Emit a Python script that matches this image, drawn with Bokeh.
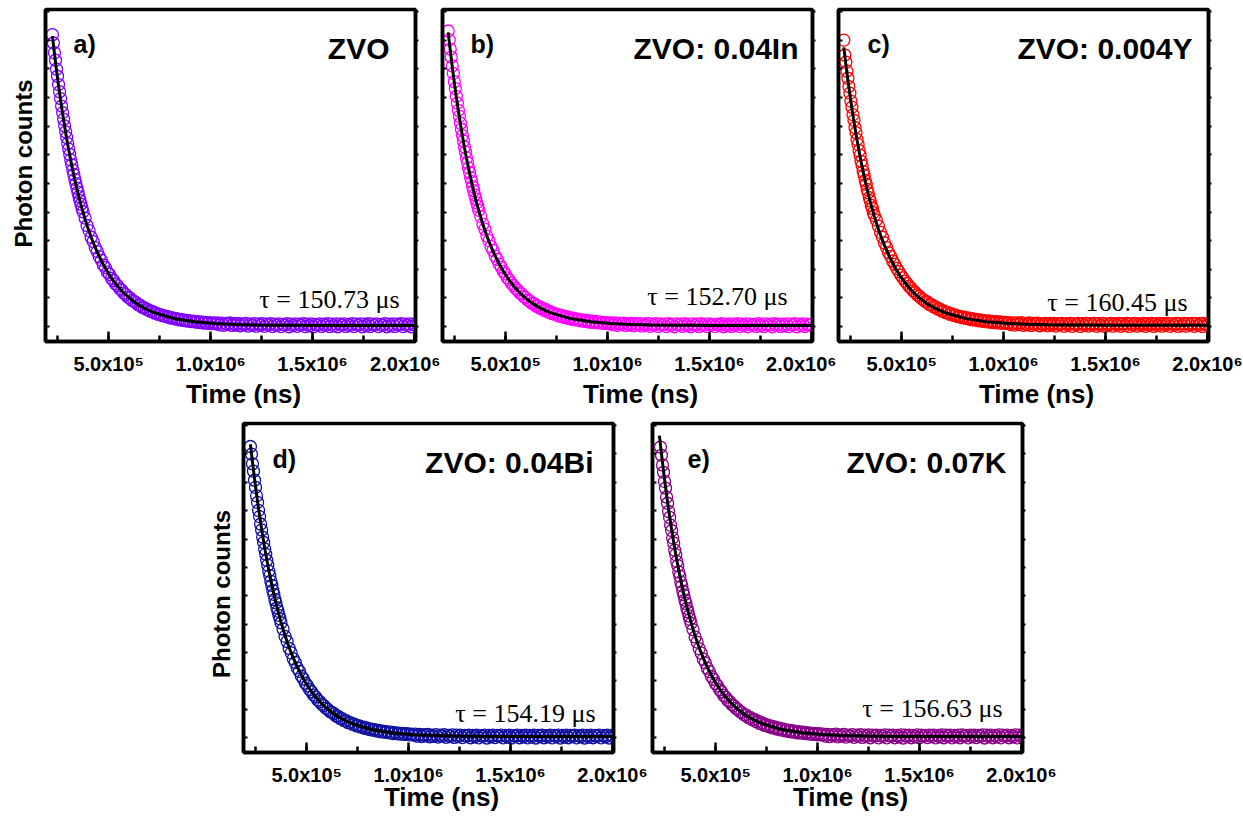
import numpy as np
from bokeh.plotting import figure
from bokeh.models import Range1d, SingleIntervalTicker, LinearAxis, Label, CustomJSTickFormatter
from bokeh.layouts import row, column
from bokeh.embed import file_html
from bokeh.resources import INLINE

# ---------------- data ----------------
# sampling grid (ns after the first channel shown in each panel)
DATA_OFFSETS_NS = np.concatenate([np.arange(0, 150001, 5000),
                                  np.arange(160000, 1780001, 10000)])
FIT_OFFSETS_NS = np.concatenate([np.arange(0, 200001, 10000),
                                 np.arange(225000, 500001, 25000),
                                 np.arange(600000, 1800001, 100000)])

SAMPLES = ["ZVO", "ZVO: 0.04In", "ZVO: 0.004Y", "ZVO: 0.04Bi", "ZVO: 0.07K"]
PANEL_LETTERS = ["a)", "b)", "c)", "d)", "e)"]
LIFETIMES_US = [150.73, 152.70, 160.45, 154.19, 156.63]
COLORS = ["#8000FF", "#FF00FF", "#FF0000", "#1010A0", "#880088"]
DATA_START_NS = [224000, 218000, 216000, 224000, 229000]
FIT_START_NS = [224000, 218000, 216000, 224000, 224000]

COUNTS_ZVO = [
    10190, 9900, 9560, 9300, 8990, 8740, 8450, 8200, 7960, 7700,
    7470, 7240, 7010, 6800, 6600, 6390, 6200, 6010, 5820, 5650,
    5470, 5310, 5140, 4990, 4830, 4690, 4540, 4400, 4270, 4140, 4010,
    3790, 3530, 3350, 3120, 2970, 2760, 2620, 2440, 2320, 2150,
    2060, 1900, 1820, 1680, 1610, 1490, 1430, 1320, 1270, 1170,
    1120, 1030, 1000, 915, 885,
    840, 760, 745, 675, 665, 600, 590, 535, 530, 475,
    470, 425, 420, 380, 375, 340, 340, 300, 305, 270,
    275, 240, 250, 215, 225, 195, 205, 175, 190, 155,
    175, 140, 165, 125, 150, 115, 140, 105, 130, 95,
    130, 60, 120, 45, 110, 70, 125, 40, 100, 55,
    115, 30, 95, 60, 110, 20, 90, 50, 105, 15,
    95, 45, 100, 10, 85, 60, 100, 5, 90, 40,
    95, 0, 80, 55, 100, -5, 90, 35, 95, 10,
    85, 50, 100, 0, 90, 30, 95, -5, 80, 55,
    95, 5, 90, 40, 100, 0, 85, 25, 95, -5,
    90, 50, 95, 5, 80, 35, 100, 0, 90, 45,
    95, -5, 85, 30, 100, 5, 90, 50, 95, 0,
    80, 40, 100, -5, 90, 25, 95, 5, 85, 50,
    100, 0, 90, 35, 95, -5, 85, 45]
COUNTS_IN = [
    10320, 10010, 9690, 9410, 9100, 8840, 8550, 8310, 8040, 7800,
    7550, 7340, 7100, 6890, 6670, 6480, 6270, 6090, 5890, 5720,
    5540, 5380, 5200, 5060, 4890, 4750, 4600, 4460, 4320, 4200, 4060,
    3840, 3580, 3400, 3160, 3000, 2790, 2660, 2470, 2350, 2180,
    2080, 1930, 1840, 1700, 1630, 1510, 1440, 1340, 1280, 1180,
    1140, 1050, 1010, 925, 895,
    815, 805, 720, 720, 640, 650, 570, 590, 505, 520,
    450, 470, 400, 420, 355, 385, 315, 350, 280, 315,
    250, 285, 225, 255, 200, 235, 180, 215, 160, 195,
    145, 180, 130, 165, 120, 150, 110, 140, 100, 130,
    60, 125, 45, 115, 70, 120, 35, 105, 55, 110,
    25, 100, 60, 105, 20, 95, 45, 110, 10, 90,
    50, 100, 5, 95, 55, 85, 0, 100, 40, 90,
    -5, 95, 50, 85, 10, 100, 30, 90, -5, 95,
    45, 85, 5, 100, 35, 90, 0, 95, 50, 80,
    0, 90, 40, 100, -5, 85, 30, 95, 5, 90,
    45, 100, 0, 85, 35, 95, -5, 90, 50, 80,
    5, 100, 30, 90, 0, 95, 45, 85, -5, 100,
    40, 90, 5, 85, 30, 95, 0, 90, 50, 100,
    -5, 85, 35, 95, 5, 90, 45, 80]
COUNTS_Y = [
    10000, 9480, 9230, 8920, 8670, 8380, 8150, 7870, 7660, 7400,
    7200, 6950, 6770, 6530, 6360, 6140, 5980, 5770, 5620, 5420,
    5290, 5100, 4970, 4790, 4670, 4500, 4390, 4230, 4130, 3980, 3880,
    3720, 3510, 3290, 3120, 2920, 2760, 2580, 2450, 2290, 2170,
    2030, 1920, 1800, 1700, 1590, 1510, 1410, 1340, 1250, 1190,
    1110, 1060, 985, 940, 875,
    860, 770, 770, 690, 690, 610, 615, 545, 550, 485,
    495, 430, 445, 390, 400, 345, 360, 310, 330, 280,
    300, 250, 275, 225, 250, 200, 230, 185, 210, 165,
    195, 150, 180, 140, 170, 125, 160, 115, 150, 110,
    140, 70, 130, 55, 125, 75, 135, 45, 115, 65,
    125, 40, 110, 70, 120, 30, 105, 60, 115, 25,
    110, 55, 115, 20, 100, 70, 110, 15, 105, 50,
    110, 10, 95, 65, 115, 5, 105, 45, 110, 20,
    100, 60, 115, 10, 105, 40, 110, 5, 95, 65,
    110, 15, 105, 50, 115, 10, 100, 35, 110, 5,
    105, 60, 110, 15, 95, 45, 115, 10, 105, 55,
    110, 5, 100, 40, 115, 15, 105, 60, 110, 10,
    95, 50, 115, 5, 105, 35, 110, 15, 100, 60,
    115, 10, 105, 45, 110, 5, 100, 55]
COUNTS_BI = [
    10260, 9990, 9650, 9390, 9070, 8820, 8520, 8290, 8010, 7790,
    7530, 7320, 7070, 6880, 6650, 6470, 6250, 6080, 5870, 5710,
    5520, 5370, 5190, 5050, 4870, 4750, 4580, 4460, 4310, 4190, 4050,
    3830, 3570, 3390, 3150, 2990, 2780, 2650, 2460, 2340, 2170,
    2070, 1920, 1830, 1700, 1620, 1500, 1440, 1330, 1275, 1180,
    1130, 1045, 1000, 925, 890,
    845, 765, 755, 680, 670, 600, 600, 530, 535, 470,
    480, 420, 430, 375, 385, 335, 345, 295, 310, 265,
    285, 235, 260, 210, 235, 190, 215, 170, 195, 150,
    180, 135, 165, 125, 150, 115, 145, 100, 130, 95,
    125, 55, 115, 40, 105, 65, 120, 35, 95, 50,
    110, 25, 90, 55, 105, 15, 85, 45, 100, 10,
    90, 40, 95, 5, 80, 55, 95, 0, 85, 35,
    90, -5, 75, 50, 95, -10, 85, 30, 90, 5,
    80, 45, 95, -5, 85, 25, 90, -10, 75, 50,
    90, 0, 85, 35, 95, -5, 80, 20, 90, -10,
    85, 45, 90, 0, 75, 30, 95, -5, 85, 40,
    90, -10, 80, 25, 95, 0, 85, 45, 90, -5,
    75, 35, 95, -10, 85, 20, 90, 0, 80, 45,
    95, -5, 85, 30, 90, -10, 80, 40]
COUNTS_K = [
    10240, 9950, 9610, 9350, 9030, 8790, 8480, 8260, 7970, 7760,
    7490, 7300, 7040, 6860, 6610, 6450, 6210, 6060, 5840, 5690,
    5490, 5350, 5160, 5030, 4850, 4730, 4560, 4440, 4290, 4170, 4030,
    3810, 3550, 3370, 3140, 2980, 2770, 2640, 2450, 2330, 2160,
    2060, 1910, 1830, 1690, 1620, 1490, 1430, 1320, 1270, 1170,
    1125, 1040, 1000, 920, 885,
    805, 800, 715, 715, 635, 645, 560, 585, 495, 520,
    440, 465, 395, 420, 345, 380, 305, 345, 275, 310,
    245, 280, 220, 255, 195, 235, 175, 215, 160, 195,
    145, 175, 130, 165, 115, 155, 105, 145, 100, 130,
    60, 120, 40, 110, 65, 125, 30, 100, 55, 115,
    20, 95, 60, 110, 15, 90, 50, 105, 10, 95,
    45, 100, 0, 90, 55, 95, -5, 85, 40, 100,
    -5, 90, 50, 95, 0, 85, 35, 100, -10, 90,
    45, 95, 0, 80, 35, 100, -5, 90, 50, 85,
    5, 95, 40, 90, -5, 85, 30, 100, 0, 90,
    45, 95, -5, 85, 35, 90, 0, 100, 50, 80,
    -5, 95, 30, 90, 5, 85, 45, 100, -10, 90,
    40, 95, 0, 85, 30, 100, -5, 90, 50, 95,
    0, 85, 35, 100, -5, 90, 45, 85]

FIT_ZVO = [10140, 9528, 8953, 8413, 7906, 7429, 6982, 6561, 6166, 5795,
           5447, 5118, 4811, 4521, 4251, 3995, 3756, 3531, 3319, 3121, 2934,
           2516, 2157, 1851, 1589, 1366, 1173, 1010, 869, 749, 647, 559, 483,
           277, 167, 108, 76, 59, 50, 45, 42, 41, 40, 40, 40, 40]
FIT_IN = [10270, 9650, 9068, 8521, 8007, 7524, 7071, 6644, 6244, 5869,
          5516, 5184, 4873, 4579, 4305, 4046, 3804, 3575, 3362, 3160, 2971,
          2547, 2184, 1874, 1609, 1382, 1188, 1022, 880, 758, 655, 566, 489,
          280, 169, 109, 77, 59, 50, 45, 40, 40, 40, 40, 40, 40]
FIT_Y = [9750, 9162, 8610, 8091, 7604, 7147, 6717, 6312, 5933, 5577,
         5242, 4927, 4632, 4354, 4094, 3849, 3619, 3402, 3200, 3009, 2829,
         2427, 2083, 1789, 1538, 1323, 1138, 981, 846, 731, 633, 549, 476,
         278, 172, 115, 85, 68, 60, 55, 50, 50, 50, 50, 50, 50]
FIT_BI = [10340, 9716, 9130, 8579, 8062, 7575, 7119, 6690, 6287, 5909,
          5554, 5219, 4906, 4610, 4334, 4073, 3829, 3600, 3384, 3182, 2991,
          2565, 2199, 1887, 1620, 1391, 1196, 1029, 886, 763, 659, 569, 492,
          282, 170, 109, 77, 60, 50, 45, 40, 40, 40, 40, 40, 40]
FIT_K = [10640, 9998, 9395, 8827, 8295, 7795, 7325, 6883, 6469, 6080,
         5714, 5370, 5047, 4743, 4459, 4191, 3940, 3703, 3482, 3273, 3077,
         2638, 2262, 1941, 1666, 1431, 1229, 1058, 910, 784, 677, 585, 505,
         289, 174, 111, 78, 60, 51, 45, 40, 40, 40, 40, 40, 40]

COUNTS = [COUNTS_ZVO, COUNTS_IN, COUNTS_Y, COUNTS_BI, COUNTS_K]
FITS = [FIT_ZVO, FIT_IN, FIT_Y, FIT_BI, FIT_K]

X_TICK_LABELS = {500000: "5.0x10\u2075", 1000000: "1.0x10\u2076",
                 1500000: "1.5x10\u2076", 2000000: "2.0x10\u2076"}
X_TITLE = "Time (ns)"
Y_TITLE = "Photon counts"

# ---------------- styling / layout ----------------
X_START, X_END = 1.9e5, 2.005e6
Y_START, Y_END = -520, 11070
FW = 370
SANS = "Liberation Sans"
SERIF = "Liberation Serif"

# frame height, borders (left, right, top, bottom), x-title standoff
GEOM = [
    dict(fh=332, bl=45, br=25, bt=9, bb=70, xls=1),
    dict(fh=332, bl=2, br=24, bt=9, bb=70, xls=1),
    dict(fh=332, bl=2, br=35, bt=9, bb=70, xls=1),
    dict(fh=329, bl=243, br=37, bt=12, bb=68, xls=-7),
    dict(fh=329, bl=2, br=40, bt=12, bb=68, xls=-7),
]
LETTER_DX = [28, 28, 29, 29, 35]
LETTER_DY = [34, 34, 34, 35, 35]
TITLE_INSET = [26, 14, 16, 20, 16]
TAU_INSET = [16, 25, 21, 18, 20]
TAU_UP = [42, 45, 39, 39, 44]
# y-title: leading / trailing spacer to shift the rotated label along the axis
Y_TITLE_TEXT = {0: "\u2003" + Y_TITLE, 3: Y_TITLE + "\u2002"}

fmt_code = "const m = %s; return m[String(Math.round(tick))] || '';" % (
    "{" + ",".join('"%d":"%s"' % (k, v) for k, v in X_TICK_LABELS.items()) + "}")


def make_panel(i):
    g = GEOM[i]
    fh = g["fh"]

    def dx(px):
        return X_START + px * (X_END - X_START) / FW

    def dy(px):
        return Y_START + px * (Y_END - Y_START) / fh

    p = figure(frame_width=FW, frame_height=fh,
               min_border_left=g["bl"], min_border_right=g["br"],
               min_border_top=g["bt"], min_border_bottom=g["bb"],
               x_range=Range1d(X_START, X_END), y_range=Range1d(Y_START, Y_END),
               output_backend="svg", toolbar_location=None,
               background_fill_color="white", border_fill_color="white")
    p.xgrid.visible = False
    p.ygrid.visible = False
    p.outline_line_color = "black"
    p.outline_line_width = 3.5
    p.outline_line_alpha = 1.0

    xa = p.xaxis[0]
    xa.ticker = SingleIntervalTicker(interval=500000, num_minor_ticks=2)
    xa.formatter = CustomJSTickFormatter(code=fmt_code)
    xa.major_tick_in = 10
    xa.major_tick_out = 0
    xa.minor_tick_in = 6
    xa.minor_tick_out = 0
    xa.major_tick_line_width = 2.5
    xa.minor_tick_line_width = 2.5
    xa.axis_line_width = 3.5
    xa.major_label_text_font = SANS
    xa.major_label_text_font_style = "bold"
    xa.major_label_text_font_size = "20px"
    xa.major_label_text_color = "black"
    xa.major_label_standoff = 11
    xa.axis_label = "\u2003" + X_TITLE
    xa.axis_label_text_font = SANS
    xa.axis_label_text_font_style = "bold"
    xa.axis_label_text_font_size = "26px"
    xa.axis_label_text_color = "black"
    xa.axis_label_standoff = g["xls"]

    ya = p.yaxis[0]
    ya.ticker = SingleIntervalTicker(interval=1000, num_minor_ticks=0)
    ya.formatter = CustomJSTickFormatter(code="return '';")
    ya.major_label_text_font_size = "0px"
    ya.major_label_standoff = 0
    ya.major_tick_in = 4
    ya.major_tick_out = 0
    ya.minor_tick_in = 0
    ya.minor_tick_out = 0
    ya.major_tick_line_width = 2
    ya.axis_line_width = 3.5
    if i in Y_TITLE_TEXT:
        ya.axis_label = Y_TITLE_TEXT[i]
        ya.axis_label_text_font = SANS
        ya.axis_label_text_font_style = "bold"
        ya.axis_label_text_font_size = "24px"
        ya.axis_label_text_color = "black"
        ya.axis_label_standoff = 9

    ra = LinearAxis(ticker=SingleIntervalTicker(interval=1000, num_minor_ticks=0),
                    formatter=CustomJSTickFormatter(code="return '';"),
                    major_label_text_font_size="0px", major_label_standoff=0,
                    major_tick_in=0, major_tick_out=3, minor_tick_in=0, minor_tick_out=0,
                    major_tick_line_width=2, axis_line_width=3.5)
    p.add_layout(ra, "right")

    t = DATA_START_NS[i] + DATA_OFFSETS_NS
    p.scatter(t, COUNTS[i], marker="circle", size=12, fill_color=None,
              line_color=COLORS[i], line_width=1.3)
    tf = FIT_START_NS[i] + FIT_OFFSETS_NS
    p.line(tf, FITS[i], line_color="black", line_width=3)

    p.add_layout(Label(x=dx(LETTER_DX[i]), y=dy(fh - LETTER_DY[i]), text=PANEL_LETTERS[i],
                       text_font=SANS, text_font_style="bold", text_font_size="25px",
                       text_align="left", text_baseline="alphabetic", text_color="black"))
    p.add_layout(Label(x=dx(FW - TITLE_INSET[i]), y=dy(fh - 38.5), text=SAMPLES[i],
                       text_font=SANS, text_font_style="bold", text_font_size="30px",
                       text_align="right", text_baseline="alphabetic", text_color="black"))
    p.add_layout(Label(x=dx(FW - TAU_INSET[i]), y=dy(TAU_UP[i]),
                       text="\u03c4 = %.2f \u03bcs" % LIFETIMES_US[i],
                       text_font=SERIF, text_font_size="26px",
                       text_align="right", text_baseline="alphabetic", text_color="black"))
    return p


panels = [make_panel(i) for i in range(5)]
layout = column(row(panels[0], panels[1], panels[2]), row(panels[3], panels[4]))

open("out.html", "w", encoding="utf-8").write(file_html(layout, INLINE))
